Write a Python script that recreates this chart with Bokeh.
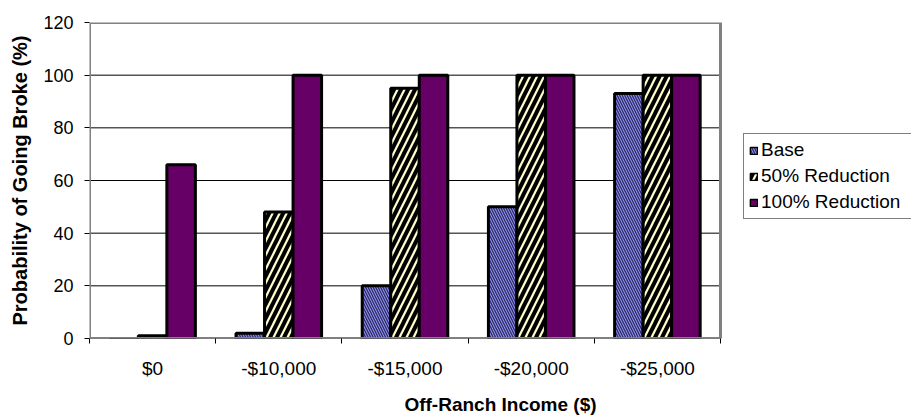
import numpy as np
from bokeh.plotting import figure
from bokeh.models import ColumnDataSource, FixedTicker, Legend, LegendItem, Range1d
from bokeh.transform import dodge
from bokeh.embed import file_html
from bokeh.resources import INLINE

# Probability of going broke (%) by off-ranch income scenario
categories = ["$0", "-$10,000", "-$15,000", "-$20,000", "-$25,000"]
base = [0, 2, 20, 50, 93]
reduction_50 = [1, 48, 95, 100, 100]
reduction_100 = [66, 100, 100, 100, 100]
series_names = ["Base", "50% Reduction", "100% Reduction"]
y_ticks = [0, 20, 40, 60, 80, 100, 120]

FONT = "Liberation Sans"
BAR_W = 0.226

# The frame runs to the right edge of the page so the legend can sit beside
# the plotting area; the plotting area itself covers 631 px of the 822 px frame.
N = len(categories)
PLOT_PX, FRAME_PX = 631, 822
x_end = N * FRAME_PX / PLOT_PX
y_top = y_ticks[-1]

centers = np.arange(N) + 0.5
src = ColumnDataSource(dict(x=centers, base=base, r50=reduction_50, r100=reduction_100))

p = figure(width=911, height=417, output_backend="svg", toolbar_location=None,
           x_range=Range1d(0, x_end), y_range=Range1d(0, y_top),
           min_border_left=89, min_border_right=0, min_border_top=22,
           min_border_bottom=76, background_fill_color="white",
           border_fill_color="white")
p.outline_line_color = None
p.grid.visible = False

# horizontal gridlines in black, only across the plotting area
grid_y = y_ticks[:-1]
p.segment(x0=[0] * len(grid_y), x1=[N] * len(grid_y), y0=grid_y, y1=grid_y,
          line_color="black", line_width=1)

# x axis: labels at category centres, tick marks on category boundaries
p.xaxis.ticker = FixedTicker(ticks=list(centers), minor_ticks=list(range(N + 1)))
p.xaxis.major_label_overrides = {float(c): lab for c, lab in zip(centers, categories)}
p.xaxis.major_tick_line_color = None
p.xaxis.major_tick_out = 5
p.xaxis.major_tick_in = 0
p.xaxis.minor_tick_line_color = "black"
p.xaxis.minor_tick_out = 5
p.xaxis.minor_tick_in = 0
p.xaxis.axis_line_color = None
p.xaxis.major_label_standoff = 14
p.xaxis.axis_label = "Off-Ranch Income ($)"
p.xaxis.axis_label_standoff = 12

p.yaxis.ticker = FixedTicker(ticks=y_ticks)
p.yaxis.major_tick_line_color = "black"
p.yaxis.major_tick_out = 5
p.yaxis.major_tick_in = 0
p.yaxis.minor_tick_line_color = None
p.yaxis.axis_line_color = None
p.yaxis.major_label_standoff = 11
p.yaxis.axis_label = "Probability of Going Broke (%)"
p.yaxis.axis_label_standoff = 9

for ax in (p.xaxis, p.yaxis):
    ax.major_label_text_font = FONT
    ax.major_label_text_color = "black"
    ax.axis_label_text_font = FONT
    ax.axis_label_text_font_style = "bold"
    ax.axis_label_text_color = "black"
p.xaxis.major_label_text_font_size = "19px"
p.yaxis.major_label_text_font_size = "18px"
p.xaxis.axis_label_text_font_size = "19px"
p.yaxis.axis_label_text_font_size = "20px"

styles = [
    dict(fill_color="#9999FF", hatch_pattern="\\", hatch_color="#2E2E66",
         hatch_scale=5, hatch_weight=1.4),
    dict(fill_color="#FFFFCC", hatch_pattern="/", hatch_color="black",
         hatch_scale=14, hatch_weight=4),
    dict(fill_color="#660066"),
]
fields = ["base", "r50", "r100"]
offsets = [-BAR_W, 0.0, BAR_W]

items = []
for name, field, off, st in zip(series_names, fields, offsets, styles):
    p.vbar(x=dodge("x", off, range=p.x_range), top=field, width=BAR_W, bottom=0,
           source=src, line_color="black", line_width=3, **st)
    # thin-outlined swatch for the legend
    swatch = p.vbar(x=[np.nan], top=[np.nan], width=BAR_W, line_color="black",
                    line_width=1.5, **st)
    items.append(LegendItem(label=name, renderers=[swatch]))

# grey border of the plotting area
p.quad(left=0, right=N, bottom=0, top=y_top, fill_color=None,
       line_color="#808080", line_width=3)

legend = Legend(items=items, location=(654, 119), orientation="vertical",
                label_text_font=FONT, label_text_font_size="19px",
                label_text_color="black", glyph_width=9, glyph_height=9,
                label_height=22, label_width=150, label_standoff=3,
                spacing=4, padding=5, margin=0,
                border_line_color="black", border_line_width=1,
                background_fill_color="white", background_fill_alpha=1)
p.add_layout(legend)

open("out.html", "w").write(file_html(p, INLINE))
